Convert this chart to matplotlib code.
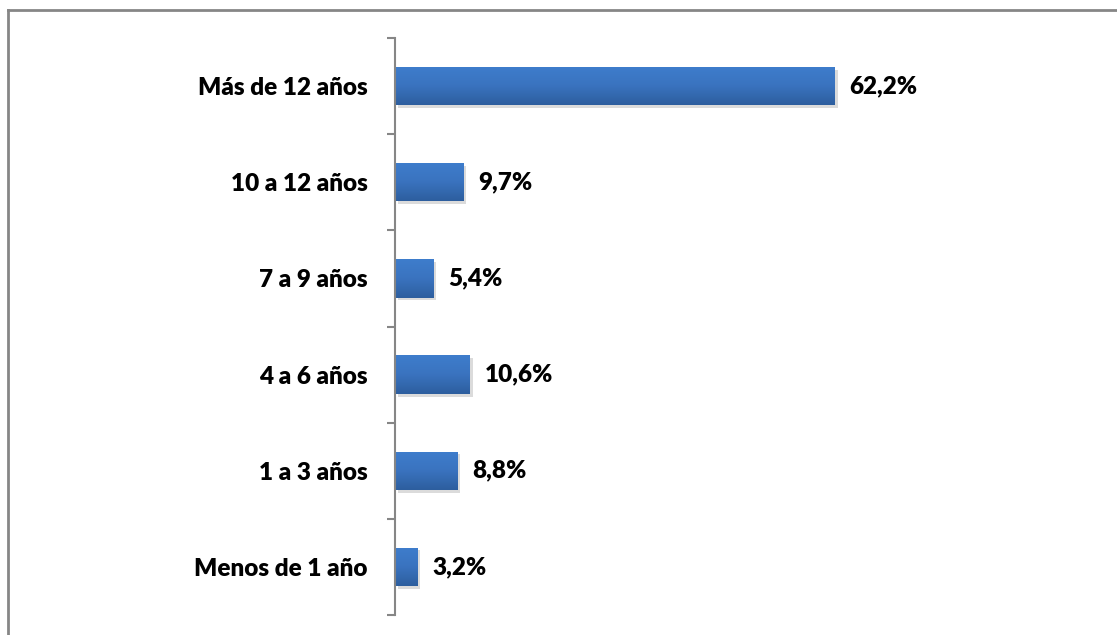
import matplotlib
matplotlib.use("Agg")
import matplotlib.pyplot as plt
import numpy as np
from matplotlib.colors import LinearSegmentedColormap
from matplotlib.lines import Line2D
import matplotlib.patheffects as pe

categories = ["Menos de 1 año", "1 a 3 años", "4 a 6 años", "7 a 9 años", "10 a 12 años", "Más de 12 años"]
values = [3.2, 8.8, 10.6, 5.4, 9.7, 62.2]
value_labels = ["3,2%", "8,8%", "10,6%", "5,4%", "9,7%", "62,2%"]

plt.rcParams['font.family'] = ['Lato', 'DejaVu Sans']

W, H = 1117, 635
fig = plt.figure(figsize=(W / 100, H / 100), dpi=100)
ax = fig.add_axes([395 / W, (H - 615) / H, (1102 - 395) / W, (615 - 38) / H])

y = np.arange(len(categories))
bars = ax.barh(y, values, height=0.4, color="#3a72c0", zorder=2)

cmap = LinearSegmentedColormap.from_list("g", ["#2d5e9e", "#3a73bf", "#3e7dcc"])
grad = np.linspace(0, 1, 256).reshape(-1, 1)
for b in bars:
    x0, y0 = b.get_x(), b.get_y()
    w, h = b.get_width(), b.get_height()
    b.set_facecolor("none")
    b.set_path_effects([pe.SimplePatchShadow(offset=(2, -2), shadow_rgbFace="#9a9a9a", alpha=0.35), pe.Normal()])
    im = ax.imshow(grad, extent=(x0, x0 + w, y0, y0 + h), origin="lower", cmap=cmap,
                   aspect="auto", zorder=2.5)
    im.set_clip_path(b)

for yi, v, lab in zip(y, values, value_labels):
    ax.text(v + 2.1, yi, lab, va="center", ha="left", fontsize=17.5, fontweight="heavy", color="black")

ax.set_xlim(0, 100)
ax.set_ylim(-0.5, len(categories) - 0.5)
ax.set_yticks(np.arange(-0.5, len(categories), 1.0))
ax.set_yticklabels([])
ax.set_yticks(y, minor=True)
ax.set_yticklabels(categories, minor=True, fontsize=17.5, fontweight="heavy")
ax.tick_params(axis="y", which="minor", length=0, pad=19.5)
ax.tick_params(axis="y", which="major", length=6, width=1.5, color="#868686", direction="out")
ax.set_xticks([])
for s in ["top", "right", "bottom"]:
    ax.spines[s].set_visible(False)
ax.spines["left"].set_color("#868686")
ax.spines["left"].set_linewidth(1.5)

# outer chart border (top and left visible)
fig.add_artist(Line2D([7.5 / W, 7.5 / W], [0, (H - 9.5) / H], transform=fig.transFigure, color="#868686", lw=2))
fig.add_artist(Line2D([7.5 / W, 1], [(H - 9.5) / H, (H - 9.5) / H], transform=fig.transFigure, color="#868686", lw=2))

fig.savefig("out.png", dpi=100, facecolor="white")
